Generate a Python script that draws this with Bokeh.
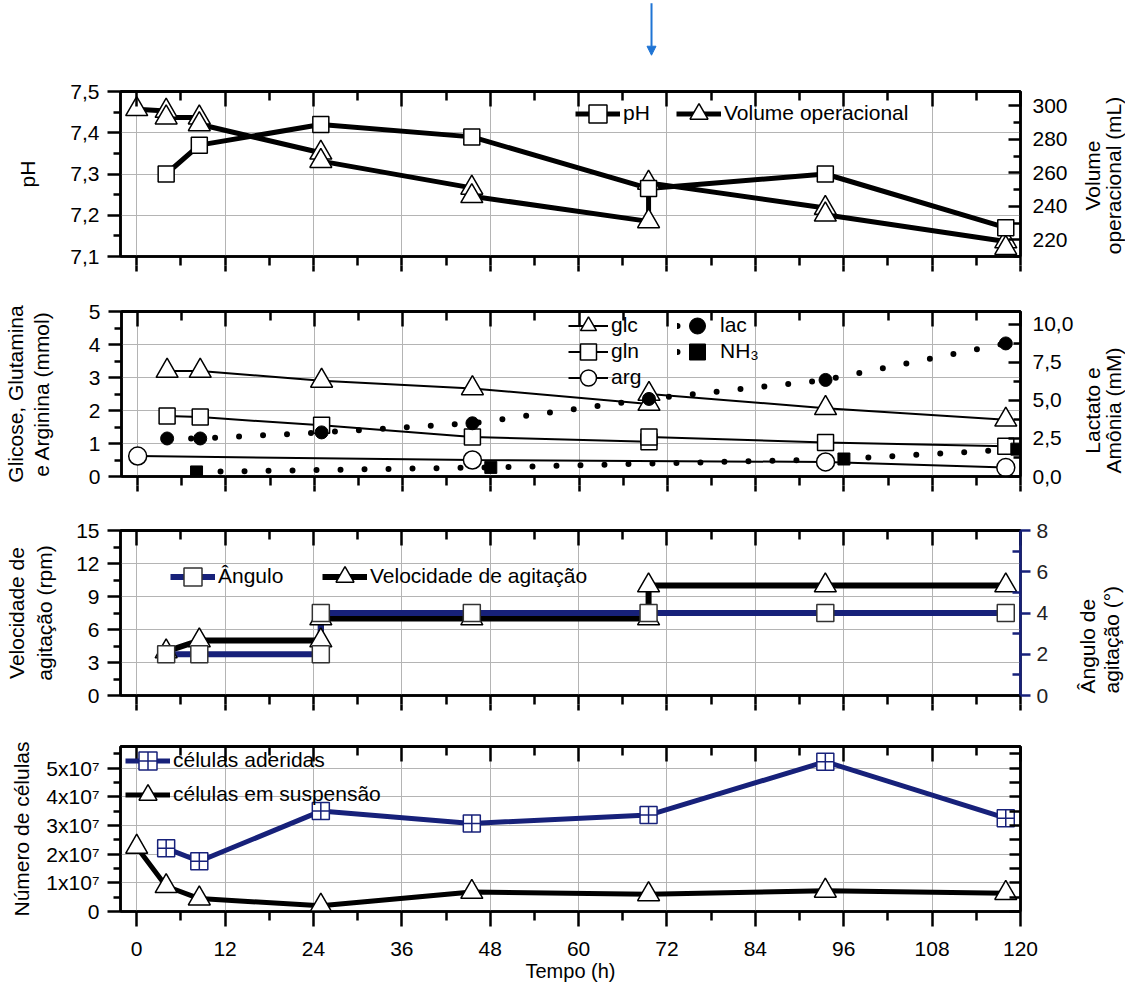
import math
from bokeh.plotting import figure
from bokeh.layouts import column, row
from bokeh.models import (Range1d, LinearAxis, FixedTicker, Legend, LegendItem,
                          Arrow, NormalHead)
from bokeh.core.properties import value
from bokeh.embed import file_html
from bokeh.resources import INLINE

FONT = "Liberation Sans"
NAVY = "#17217a"
GRID = "#b4b4b4"

# ---------------- data ----------------
x_ticks = [0, 12, 24, 36, 48, 60, 72, 84, 96, 108, 120]
x_minor = [6, 18, 30, 42, 54, 66, 78, 90, 102, 114]
x_all = [0, 6, 12, 18, 24, 30, 36, 42, 48, 54, 60, 66, 72, 78, 84, 90, 96, 102, 108, 114, 120]
x_tick_labels = ["0", "12", "24", "36", "48", "60", "72", "84", "96", "108", "120"]
arrow_t = 69.9

# panel 1: pH and operating volume
t_ph = [4, 8.5, 25, 45.5, 69.5, 93.5, 118]
ph = [7.30, 7.37, 7.42, 7.39, 7.265, 7.30, 7.17]
t_vol = [0, 4, 4, 8.5, 8.5, 25, 25, 45.5, 45.5, 69.5, 69.5, 93.5, 93.5, 118, 118]
vol = [298, 297, 293, 293, 289, 272, 267, 251, 246, 231, 254, 239, 235, 219, 215]
ph_ticks = [7.1, 7.2, 7.3, 7.4, 7.5]
ph_minor = [7.15, 7.25, 7.35, 7.45]
ph_tick_labels = ["7,1", "7,2", "7,3", "7,4", "7,5"]
vol_ticks = [220, 240, 260, 280, 300]
vol_minor = [210, 230, 250, 270, 290]
vol_tick_labels = ["220", "240", "260", "280", "300"]

# panel 2: metabolites
t_glc = [4, 8.5, 25, 45.5, 69.5, 69.5, 93.5, 118]
glc = [3.2, 3.2, 2.9, 2.67, 2.2, 2.5, 2.07, 1.72]
t_gln = [4, 8.5, 25, 45.5, 69.5, 69.5, 93.5, 118]
gln = [1.83, 1.8, 1.55, 1.2, 1.05, 1.2, 1.03, 0.92]
t_arg = [0, 45.5, 93.5, 118]
arg = [0.62, 0.5, 0.44, 0.27]
t_lac = [4, 8.5, 25, 45.5, 69.5, 93.5, 118]
lac = [2.5, 2.5, 2.9, 3.5, 5.1, 6.35, 8.75]
t_nh3 = [8, 48, 96, 119.5]
nh3 = [0.3, 0.6, 1.15, 1.8]
mmol_ticks = [0, 1, 2, 3, 4, 5]
mmol_minor = [0.5, 1.5, 2.5, 3.5, 4.5]
mmol_tick_labels = ["0", "1", "2", "3", "4", "5"]
mm_ticks = [0, 2.5, 5, 7.5, 10]
mm_minor = [1.25, 3.75, 6.25, 8.75]
mm_tick_labels = ["0,0", "2,5", "5,0", "7,5", "10,0"]

# panel 3: agitation
t_ang = [4, 8.5, 25, 25, 45.5, 69.5, 93.5, 118]
ang = [2, 2, 2, 4, 4, 4, 4, 4]
t_rpm = [4, 8.5, 25, 25, 45.5, 69.5, 69.5, 93.5, 118]
rpm = [4, 5, 5, 7, 7, 7, 10, 10, 10]
rpm_ticks = [0, 3, 6, 9, 12, 15]
rpm_minor = [1.5, 4.5, 7.5, 10.5, 13.5]
rpm_tick_labels = ["0", "3", "6", "9", "12", "15"]
ang_ticks = [0, 2, 4, 6, 8]
ang_minor = [1, 3, 5, 7]
ang_tick_labels = ["0", "2", "4", "6", "8"]

# panel 4: cells
t_adh = [4, 8.5, 25, 45.5, 69.5, 93.5, 118]
adh = [2.2e7, 1.75e7, 3.5e7, 3.07e7, 3.36e7, 5.22e7, 3.25e7]
t_susp = [0, 4, 8.5, 25, 45.5, 69.5, 93.5, 118]
susp = [2.25e7, 0.88e7, 0.45e7, 0.2e7, 0.68e7, 0.6e7, 0.72e7, 0.64e7]
cell_ticks = [0, 1e7, 2e7, 3e7, 4e7, 5e7]
cell_minor = [0.5e7, 1.5e7, 2.5e7, 3.5e7, 4.5e7, 5.5e7]
cell_all = [0, 0.5e7, 1e7, 1.5e7, 2e7, 2.5e7, 3e7, 3.5e7, 4e7, 4.5e7, 5e7, 5.5e7]
cell_tick_labels = ["0", "1x10\u2077", "2x10\u2077", "3x10\u2077", "4x10\u2077", "5x10\u2077"]

# ---------------- helpers ----------------
TOTAL_W = 1125
FRAME_L = 120
FRAME_W = 900
FH = 165
x_range = Range1d(-2.2, 120)


def style_axis(ax, color="black", mi=0, mo=0, ni=0, no=0, standoff=8, label_color="black"):
    ax.axis_line_color = color
    ax.axis_line_width = 2.5
    ax.major_tick_line_color = color
    ax.minor_tick_line_color = color
    ax.major_tick_line_width = 2.5
    ax.minor_tick_line_width = 2.5
    ax.major_tick_in = mi
    ax.major_tick_out = mo
    ax.minor_tick_in = ni
    ax.minor_tick_out = no
    ax.major_label_text_font = FONT
    ax.major_label_text_color = label_color
    ax.major_label_text_font_size = "21px"
    ax.major_label_standoff = standoff


def title_axis(p, text, standoff):
    ax = LinearAxis(ticker=FixedTicker(ticks=[], minor_ticks=[]), axis_label=text)
    ax.axis_line_color = None
    ax.major_tick_line_color = None
    ax.minor_tick_line_color = None
    ax.major_tick_in = 0
    ax.major_tick_out = 0
    ax.minor_tick_in = 0
    ax.minor_tick_out = 0
    ax.major_label_standoff = 0
    ax.axis_label_standoff = standoff
    ax.axis_label_text_font = FONT
    ax.axis_label_text_font_size = "21px"
    ax.axis_label_text_font_style = "normal"
    ax.axis_label_text_color = "black"
    p.add_layout(ax, "left")


def make_main(yr, br, btop, bbot, yt, ym, ylab, x_labels=False):
    p = figure(width=FRAME_L + FRAME_W + br, height=btop + FH + bbot, x_range=x_range,
               y_range=yr, title=None, output_backend="svg", toolbar_location=None,
               min_border_left=FRAME_L, min_border_right=br,
               min_border_top=btop, min_border_bottom=bbot,
               outline_line_color="black", outline_line_width=2.5,
               background_fill_color="white", border_fill_color="white")
    xa = p.below[0]
    if x_labels:
        xa.ticker = FixedTicker(ticks=x_ticks, minor_ticks=x_minor)
        xa.major_label_overrides = dict(zip(x_ticks, x_tick_labels))
        style_axis(xa, mo=15, no=9, standoff=15)
    else:
        # short ticks at every 6 h, then a second stacked axis lengthens the 12 h ones
        xa.ticker = FixedTicker(ticks=[], minor_ticks=x_all)
        style_axis(xa, no=9, standoff=0)
        xb = LinearAxis(ticker=FixedTicker(ticks=[], minor_ticks=x_ticks))
        style_axis(xb, no=6, standoff=0)
        xb.axis_line_color = None
        p.add_layout(xb, "below")
    ya = p.left[0]
    ya.ticker = FixedTicker(ticks=yt, minor_ticks=ym)
    ya.major_label_overrides = dict(zip(yt, ylab))
    style_axis(ya, mo=13, no=7, standoff=8)
    top_a = LinearAxis(ticker=FixedTicker(ticks=[], minor_ticks=x_minor))
    style_axis(top_a, ni=9, standoff=0)
    p.add_layout(top_a, "above")
    top_b = LinearAxis(ticker=FixedTicker(ticks=[], minor_ticks=x_ticks))
    style_axis(top_b, ni=15, standoff=0)
    p.add_layout(top_b, "above")
    p.xgrid.ticker = FixedTicker(ticks=x_ticks)
    p.ygrid.ticker = FixedTicker(ticks=yt)
    p.xgrid.grid_line_color = GRID
    p.ygrid.grid_line_color = GRID
    p.xgrid.grid_line_width = 1
    p.ygrid.grid_line_width = 1
    return p


def side_fig(width, height, ftop, fbottom, texts, xs, ys, align="center"):
    # the frame of this figure is aligned with the neighbouring panel frame,
    # so its y range is expressed in page pixels of that frame
    f = figure(width=width, height=height, x_range=Range1d(0, width),
               y_range=Range1d(fbottom, ftop),
               title=None, x_axis_type=None, y_axis_type=None, output_backend="svg",
               toolbar_location=None, min_border=0, outline_line_color=None,
               background_fill_color="white", border_fill_color="white")
    f.text(x=xs, y=ys, text=texts, angle=math.pi / 2, text_font=value(FONT),
           text_font_size=value("21px"), text_align=value(align),
           text_baseline=value("middle"), text_color="black")
    return f


def legend_item(p, label, renderers, left, cy, fbottom, gw=45, gh=45):
    p.add_layout(Legend(items=[LegendItem(label=label, renderers=renderers)],
                        location=(left - FRAME_L, fbottom - cy - gh / 2),
                        glyph_width=gw, glyph_height=gh, label_height=gh,
                        label_text_font=FONT, label_text_font_size="21px",
                        label_text_color="black", label_standoff=3,
                        padding=0, margin=0, spacing=0,
                        border_line_color=None, background_fill_alpha=0))


# ---------------- arrow strip ----------------
p0 = figure(width=TOTAL_W, height=57, x_range=x_range, y_range=Range1d(0, 1),
            title=None, x_axis_type=None, y_axis_type=None, output_backend="svg",
            toolbar_location=None,
            min_border_left=FRAME_L, min_border_right=TOTAL_W - FRAME_L - FRAME_W,
            min_border_top=0, min_border_bottom=0, outline_line_color=None)
p0.add_layout(Arrow(x_start=arrow_t, y_start=0.95, x_end=arrow_t, y_end=0.04,
                    line_color="#1f74d4", line_width=2,
                    end=NormalHead(size=9, fill_color="#1f74d4", line_color="#1f74d4")))

# ---------------- panel 1 ----------------
H1 = 34 + FH + 25
p1 = make_main(Range1d(7.1, 7.5), 56, 34, 25, ph_ticks, ph_minor, ph_tick_labels)
title_axis(p1, "pH", 29)
p1.extra_y_ranges = {"vol": Range1d(210, 308.6)}
ra = LinearAxis(y_range_name="vol", ticker=FixedTicker(ticks=vol_ticks, minor_ticks=vol_minor))
ra.major_label_overrides = dict(zip(vol_ticks, vol_tick_labels))
style_axis(ra, mi=12, ni=7, standoff=12)
p1.add_layout(ra, "right")

l_ph = p1.line(t_ph, ph, line_color="black", line_width=5)
l_vol = p1.line(t_vol, vol, y_range_name="vol", line_color="black", line_width=5)
s_vol = p1.scatter(t_vol, vol, y_range_name="vol", marker="triangle", size=22,
                   fill_color="white", line_color="black", line_width=1.5)
s_ph = p1.scatter(t_ph, ph, marker="square", size=16, fill_color="white",
                  line_color="black", line_width=1.5)
legend_item(p1, "pH", [l_ph, s_ph], 575, 113, 256)
legend_item(p1, "Volume operacional", [l_vol, s_vol], 676, 113, 256)
row1 = row(p1, side_fig(49, H1, 91, 256, ["Volume", "operacional (mL)"], [16, 37], [175, 175]))

# ---------------- panel 2 ----------------
H2 = 30 + FH + 25
p2 = make_main(Range1d(0, 5), 56, 30, 25, mmol_ticks, mmol_minor, mmol_tick_labels)
title_axis(p2, "e Arginina (mmol)", 33)
title_axis(p2, "Glicose, Glutamina", 0)
p2.extra_y_ranges = {"mm": Range1d(0, 10.85)}
ra2 = LinearAxis(y_range_name="mm", ticker=FixedTicker(ticks=mm_ticks, minor_ticks=mm_minor))
ra2.major_label_overrides = dict(zip(mm_ticks, mm_tick_labels))
style_axis(ra2, mi=12, ni=7, standoff=12)
p2.add_layout(ra2, "right")

l_lac = p2.line(t_lac, lac, y_range_name="mm", line_color="black", line_width=6,
                line_dash="0 24", line_cap="round")
l_nh3 = p2.line(t_nh3, nh3, y_range_name="mm", line_color="black", line_width=6,
                line_dash="0 24", line_cap="round")
l_glc = p2.line(t_glc, glc, line_color="black", line_width=2)
l_gln = p2.line(t_gln, gln, line_color="black", line_width=2)
l_arg = p2.line(t_arg, arg, line_color="black", line_width=2)
s_glc = p2.scatter(t_glc, glc, marker="triangle", size=22, fill_color="white",
                   line_color="black", line_width=1.5)
s_gln = p2.scatter(t_gln, gln, marker="square", size=16, fill_color="white",
                   line_color="black", line_width=1.5)
s_arg = p2.scatter(t_arg, arg, marker="circle", size=18, fill_color="white",
                   line_color="black", line_width=1.5)
s_lac = p2.scatter(t_lac, lac, y_range_name="mm", marker="circle", size=13,
                   fill_color="black", line_color="black")
s_nh3 = p2.scatter(t_nh3, nh3, y_range_name="mm", marker="square", size=12,
                   fill_color="black", line_color="black")
legend_item(p2, "glc", [l_glc, s_glc], 567, 325, 476, gw=40)
legend_item(p2, "gln", [l_gln, s_gln], 567, 351, 476, gw=40)
legend_item(p2, "arg", [l_arg, s_arg], 567, 377, 476, gw=40)
legend_item(p2, "lac", [l_lac, s_lac], 676, 325, 476, gw=40)
legend_item(p2, "NH\u2083", [l_nh3, s_nh3], 676, 351, 476, gw=40)
row2 = row(p2, side_fig(49, H2, 311, 476, ["Lactato e", "Am\u00f4nia (mM)"], [16, 37], [410, 410]))

# ---------------- panel 3 ----------------
H3 = 29 + FH + 25
p3 = make_main(Range1d(0, 15), 35, 29, 25, rpm_ticks, rpm_minor, rpm_tick_labels)
title_axis(p3, "agita\u00e7\u00e3o (rpm)", 18)
title_axis(p3, "Velocidade de", 2)
p3.extra_y_ranges = {"ang": Range1d(0, 8)}
ra3 = LinearAxis(y_range_name="ang", ticker=FixedTicker(ticks=ang_ticks, minor_ticks=ang_minor))
ra3.major_label_overrides = dict(zip(ang_ticks, ang_tick_labels))
style_axis(ra3, color=NAVY, mo=10, ni=8, standoff=6, label_color="#222222")
p3.add_layout(ra3, "right")

l_rpm = p3.line(t_rpm, rpm, line_color="black", line_width=6)
l_ang = p3.line(t_ang, ang, y_range_name="ang", line_color=NAVY, line_width=6)
s_rpm = p3.scatter(t_rpm, rpm, marker="triangle", size=22, fill_color="white",
                   line_color="black", line_width=1.5)
s_ang = p3.scatter(t_ang, ang, y_range_name="ang", marker="square", size=17,
                   fill_color="white", line_color="#333333", line_width=1.5)
legend_item(p3, "\u00c2ngulo", [l_ang, s_ang], 170, 576, 695)
legend_item(p3, "Velocidade de agita\u00e7\u00e3o", [l_rpm, s_rpm], 322, 576, 695)
row3 = row(p3, side_fig(70, H3, 530, 695, ["\u00c2ngulo de", "agita\u00e7\u00e3o (\u00b0)"],
                        [32, 56], [693, 693], align="left"))

# ---------------- panel 4 ----------------
p4 = make_main(Range1d(0, 5.75e7), TOTAL_W - FRAME_L - FRAME_W, 26, 78,
               cell_ticks, cell_minor, cell_tick_labels, x_labels=True)
title_axis(p4, "N\u00famero de c\u00e9lulas", 11)
xa4 = p4.below[0]
xa4.axis_label = "Tempo (h)"
xa4.axis_label_text_font = FONT
xa4.axis_label_text_font_size = "20px"
xa4.axis_label_text_font_style = "normal"
xa4.axis_label_text_color = "black"
xa4.axis_label_standoff = 1
ra4 = LinearAxis(ticker=FixedTicker(ticks=[], minor_ticks=cell_all))
style_axis(ra4, ni=11, standoff=0)
p4.add_layout(ra4, "right")

l_susp = p4.line(t_susp, susp, line_color="black", line_width=5)
l_adh = p4.line(t_adh, adh, line_color=NAVY, line_width=5)
s_susp = p4.scatter(t_susp, susp, marker="triangle", size=22, fill_color="white",
                    line_color="black", line_width=1.5)
s_adh = p4.scatter(t_adh, adh, marker="square_cross", size=17, fill_color="white",
                   line_color=NAVY, line_width=1.5)
legend_item(p4, "c\u00e9lulas aderidas", [l_adh, s_adh], 125, 760, 911)
legend_item(p4, "c\u00e9lulas em suspens\u00e3o", [l_susp, s_susp], 125, 794, 911)

layout = column(p0, row1, row2, row3, p4)
open("out.html", "w").write(file_html(layout, INLINE, "chart"))
